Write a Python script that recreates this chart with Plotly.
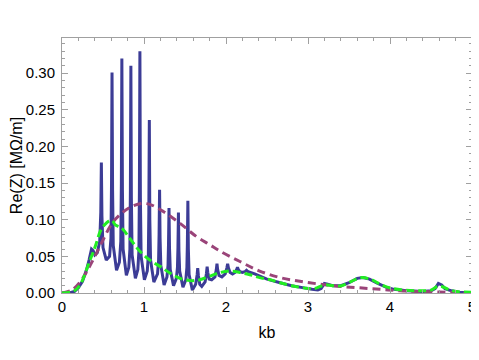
import plotly.graph_objects as go

# Re(Z) resonant curve (blue)
kb_res = [0.0, 0.1, 0.15, 0.2, 0.25, 0.3, 0.33, 0.36, 0.38, 0.40, 0.43,
          0.46, 0.473, 0.48, 0.487, 0.50, 0.54,
          0.58, 0.597, 0.604, 0.61, 0.617, 0.625, 0.665,
          0.70, 0.717, 0.724, 0.73, 0.737, 0.745, 0.785,
          0.815, 0.828, 0.834, 0.84, 0.846, 0.855, 0.895,
          0.925, 0.938, 0.944, 0.95, 0.956, 0.965, 1.005,
          1.04, 1.053, 1.059, 1.065, 1.071, 1.08, 1.12,
          1.165, 1.178, 1.184, 1.19, 1.196, 1.205, 1.245,
          1.28, 1.293, 1.299, 1.305, 1.311, 1.32, 1.36,
          1.395, 1.408, 1.414, 1.42, 1.426, 1.435, 1.475,
          1.51, 1.523, 1.529, 1.535, 1.541, 1.55, 1.59,
          1.63, 1.648, 1.655, 1.663, 1.68, 1.705,
          1.745, 1.762, 1.77, 1.778, 1.795, 1.825,
          1.865, 1.882, 1.89, 1.898, 1.915, 1.95,
          1.99, 2.01, 2.02, 2.03, 2.05, 2.08,
          2.11, 2.13, 2.14, 2.15, 2.17, 2.20,
          2.23, 2.25, 2.27, 2.35, 2.5, 2.66, 2.8, 2.95, 3.05, 3.12, 3.16,
          3.2, 3.24, 3.3, 3.4, 3.5, 3.6, 3.67, 3.75, 3.85, 3.95, 4.05, 4.2,
          4.4, 4.5, 4.55, 4.59, 4.63, 4.67, 4.75, 4.85, 5.0]
re_res = [0.0, 0.0005, 0.002, 0.007, 0.016, 0.032, 0.045, 0.060, 0.058, 0.052, 0.055,
          0.070, 0.110, 0.178, 0.105, 0.062, 0.045,
          0.050, 0.075, 0.150, 0.301, 0.140, 0.065, 0.031,
          0.042, 0.070, 0.150, 0.320, 0.140, 0.060, 0.024,
          0.035, 0.060, 0.140, 0.310, 0.130, 0.052, 0.020,
          0.032, 0.058, 0.140, 0.330, 0.130, 0.050, 0.018,
          0.030, 0.052, 0.110, 0.236, 0.100, 0.045, 0.015,
          0.026, 0.045, 0.080, 0.141, 0.075, 0.038, 0.011,
          0.022, 0.038, 0.068, 0.116, 0.062, 0.032, 0.010,
          0.020, 0.035, 0.062, 0.110, 0.058, 0.030, 0.008,
          0.018, 0.035, 0.068, 0.126, 0.060, 0.025, 0.004,
          0.012, 0.025, 0.034, 0.024, 0.012, 0.009,
          0.015, 0.027, 0.036, 0.028, 0.019, 0.018,
          0.022, 0.032, 0.040, 0.032, 0.024, 0.022,
          0.026, 0.034, 0.040, 0.034, 0.028, 0.026,
          0.028, 0.032, 0.035, 0.032, 0.029, 0.028,
          0.029, 0.031, 0.029, 0.026, 0.019, 0.014, 0.010, 0.007, 0.005, 0.004, 0.006,
          0.013, 0.012, 0.010, 0.010, 0.014, 0.020, 0.021, 0.019, 0.013, 0.008, 0.005, 0.003,
          0.002, 0.003, 0.006, 0.013, 0.011, 0.006, 0.003, 0.001, 0.0]

# broad curve (purple dashed)
kb_broad = [0.0, 0.12, 0.24, 0.325, 0.41, 0.49, 0.61, 0.73, 0.85, 0.97, 1.07,
            1.24, 1.44, 1.64, 1.8, 1.93, 2.17, 2.41, 2.66, 2.9, 3.15, 3.39,
            3.63, 3.88, 4.12, 4.4, 4.7, 5.0]
re_broad = [0.0, 0.004, 0.018, 0.034, 0.052, 0.070, 0.095, 0.109, 0.118, 0.122, 0.121,
            0.111, 0.095, 0.077, 0.066, 0.057, 0.043, 0.030, 0.021, 0.016, 0.012, 0.009,
            0.007, 0.005, 0.003, 0.002, 0.001, 0.0]

# smoothed curve (green dashed)
kb_smooth = [0.0, 0.1, 0.15, 0.2, 0.24, 0.28, 0.325, 0.37, 0.41, 0.47, 0.52, 0.57,
             0.61, 0.65, 0.7, 0.75, 0.81, 0.87, 0.95, 1.07, 1.2, 1.32, 1.44, 1.56,
             1.68, 1.8, 1.93, 2.05, 2.17, 2.29, 2.41, 2.54, 2.66, 2.8, 2.95, 3.08,
             3.2, 3.3, 3.41, 3.53, 3.65, 3.78, 3.88, 4.0, 4.16, 4.36, 4.5, 4.58,
             4.63, 4.71, 4.81, 5.0]
re_smooth = [0.0, 0.001, 0.003, 0.008, 0.015, 0.026, 0.040, 0.053, 0.065, 0.085, 0.093, 0.098,
             0.099, 0.093, 0.090, 0.086, 0.077, 0.068, 0.057, 0.045, 0.036, 0.027, 0.020, 0.017,
             0.018, 0.023, 0.028, 0.030, 0.028, 0.025, 0.021, 0.018, 0.014, 0.010, 0.007, 0.006,
             0.011, 0.010, 0.010, 0.016, 0.021, 0.018, 0.012, 0.007, 0.004, 0.003, 0.004, 0.009,
             0.009, 0.005, 0.002, 0.001]

fig = go.Figure()
fig.add_trace(go.Scatter(x=kb_res, y=re_res, mode='lines',
                         line=dict(color='#3c3c96', width=3, simplify=False)))
fig.add_trace(go.Scatter(x=kb_broad, y=re_broad, mode='lines', line_shape='spline',
                         line=dict(color='#9a4479', width=3, dash='8px,5px')))
fig.add_trace(go.Scatter(x=kb_smooth, y=re_smooth, mode='lines', line_shape='spline',
                         line=dict(color='#22ee22', width=3, dash='8px,4px')))

axis_common = dict(showline=True, linecolor='#a0a0a0', linewidth=1, mirror='ticks',
                   ticks='inside', ticklen=6, tickcolor='#a0a0a0', showgrid=False,
                   zeroline=False, automargin=False, ticklabeloverflow='allow',
                   tickfont=dict(size=15, color='black'))
fig.update_xaxes(range=[0, 5], dtick=1,
                 title=dict(text='kb', font=dict(size=16), standoff=12),
                 minor=dict(dtick=0.2, ticks='inside', ticklen=3, tickcolor='#a0a0a0'),
                 **axis_common)
fig.update_yaxes(range=[0, 0.348], dtick=0.05, tickformat='.2f', ticklabelstandoff=3,
                 title=dict(text='Re(Z) [MΩ/m]', font=dict(size=16), standoff=5),
                 minor=dict(dtick=0.01, ticks='inside', ticklen=3, tickcolor='#a0a0a0'),
                 **axis_common)
# page body adds an 8px offset, so the figure is sized to fit the 479x360 window
fig.update_layout(width=471, height=352, showlegend=False,
                  margin=dict(l=54, r=7, t=30, b=67),
                  plot_bgcolor='white', paper_bgcolor='white',
                  font=dict(family='Liberation Sans, Arial, sans-serif', color='black'))
fig.write_html("out.html")
